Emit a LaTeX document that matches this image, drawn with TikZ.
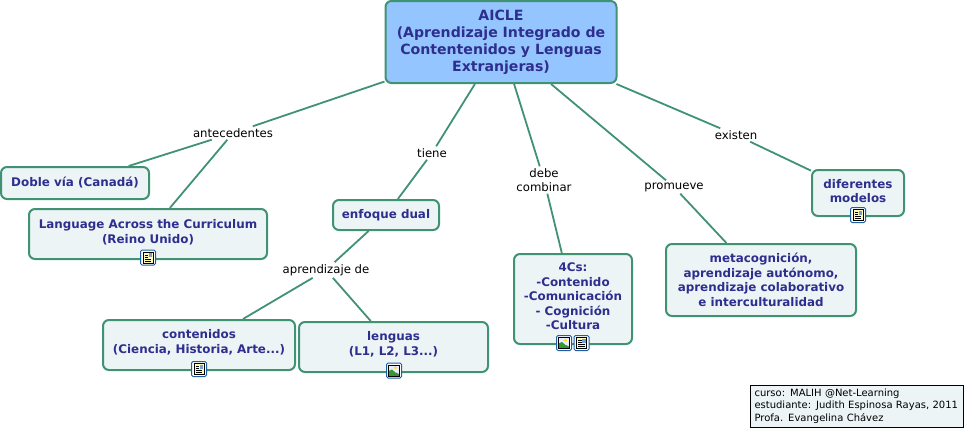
\documentclass[tikz,border=0pt]{standalone}
\usepackage{fontspec}
\setmainfont{DejaVu Sans}
\definecolor{edge}{HTML}{3F9272}
\definecolor{boxfill}{HTML}{EDF4F6}
\definecolor{rootfill}{HTML}{94C5FE}
\definecolor{ink}{HTML}{2E2E8E}
\definecolor{iconblue}{HTML}{1F5FA8}
\tikzset{
  x=1pt,y=-1pt,
  cbox/.style={draw=edge,line width=2pt,rounded corners=6pt,fill=boxfill,inner sep=0pt,align=center,text=ink,font=\fontsize{11.9}{14.5}\selectfont\bfseries},
  rootbox/.style={cbox,fill=rootfill,font=\fontsize{14.1}{17}\selectfont\bfseries},
  lbl/.style={inner sep=2pt,align=center,text=black,font=\fontsize{11.7}{14}\selectfont},
  conn/.style={draw=edge,line width=1.8pt},
  foot/.style={draw=black,line width=1pt,fill=boxfill,inner sep=0pt,align=left,text=black,font=\fontsize{10}{12.5}\selectfont},
  pics/docicon/.style={code={
    \draw[iconblue,line width=1pt,rounded corners=1.5pt,fill=white] (-7.5,-7.5) rectangle (7.5,7.5);
    \fill[yellow!30] (-5,-5.5) rectangle (5,5.5);
    \draw[black,line width=.5pt] (-5,-5.5) rectangle (5,5.5);
    \draw[black,line width=.7pt] (-3.2,-2.5)--(0,-2.5) (-3.2,-.5)--(0,-.5) (-3.2,1.5)--(3.2,1.5) (-3.2,3.5)--(3.2,3.5);
    \fill[iconblue!60] (.8,-4.5) rectangle (4,-.5);
  }},
  pics/imgicon/.style={code={
    \draw[iconblue,line width=1pt,rounded corners=1.5pt,fill=white] (-7.5,-7.5) rectangle (7.5,7.5);
    \fill[blue!8] (-5.5,-5.5) rectangle (5.5,5.5);
    \fill[yellow!90!orange] (1.5,-2.8) circle (1.6);
    \fill[green!50!black!80] (-5.5,5.5) -- (-5.5,0.5) -- (-2,-1) -- (5.5,5.5) -- cycle;
    \fill[white!60!green!50!black] (-1,5.5) -- (2,2) -- (5.5,3.8) -- (5.5,5.5) -- cycle;
    \draw[black,line width=.4pt] (-5.5,-5.5) rectangle (5.5,5.5);
  }}
}
\begin{document}
\begin{tikzpicture}
\useasboundingbox (0,0) rectangle (965,429);
\node[rootbox,minimum width=231pt,minimum height=82pt] (root) at (501,42) {AICLE\\(Aprendizaje Integrado de\\Contentenidos y Lenguas\\Extranjeras)\\[-15pt]};
\node[cbox,minimum width=148pt,minimum height=32pt] (doble) at (75,183) {Doble vía (Canadá)};
\node[cbox,minimum width=238pt,minimum height=50pt] (lang) at (148,234) {Language Across the Curriculum\\(Reino Unido)\\[-9.5pt]};
\node[cbox,minimum width=106pt,minimum height=30pt] (dual) at (386,215) {enfoque dual};
\node[cbox,minimum width=192pt,minimum height=50pt] (cont) at (199,345) {contenidos\\(Ciencia, Historia, Arte...)\\[-7pt]};
\node[cbox,minimum width=189pt,minimum height=50pt] (leng) at (393.5,347) {lenguas\\(L1, L2, L3...)\\[-7.5pt]};
\node[cbox,minimum width=118pt,minimum height=90pt] (cuatro) at (573,299) {4Cs:\\-Contenido\\-Comunicación\\- Cognición\\-Cultura\\[-9.5pt]};
\node[cbox,minimum width=190pt,minimum height=72pt] (meta) at (761,280) {metacognición,\\aprendizaje autónomo,\\aprendizaje colaborativo\\e interculturalidad};
\node[cbox,minimum width=92pt,minimum height=46pt] (dif) at (858,193) {diferentes\\modelos\\[-10.5pt]};
\node[lbl] (ante) at (233,133) {antecedentes};
\node[lbl] (tiene) at (432,153) {tiene};
\node[lbl] (debe) at (544,180) {debe\\combinar};
\node[lbl] (prom) at (674,187) {promueve};
\node[lbl] (exis) at (736,135) {existen};
\node[lbl] (apre) at (326,270) {aprendizaje de};
\node[foot,minimum width=213pt,minimum height=42pt,text width=205pt] (foot) at (857,406) {curso: MALIH @Net-Learning\\estudiante: Judith Espinosa Rayas, 2011\\Profa. Evangelina Chávez};
\begin{scope}[every path/.style={conn}]
\draw (root)--(ante); \draw (ante)--(doble); \draw (ante)--(lang);
\draw (root)--(tiene); \draw (tiene)--(dual);
\draw (root)--(debe); \draw (debe)--(cuatro);
\draw (root)--(prom); \draw (prom)--(meta);
\draw (root.-20)--(exis); \draw (exis)--(dif);
\draw (dual)--(apre); \draw (apre)--(cont); \draw (apre)--(leng);
\end{scope}
\pic at (148,257.5) {docicon};
\pic at (199,369) {docicon};
\pic at (394,370.5) {imgicon};
\pic at (564,343) {imgicon};
\pic at (581.5,343) {docicon};
\pic at (858,215) {docicon};
\end{tikzpicture}
\end{document}
